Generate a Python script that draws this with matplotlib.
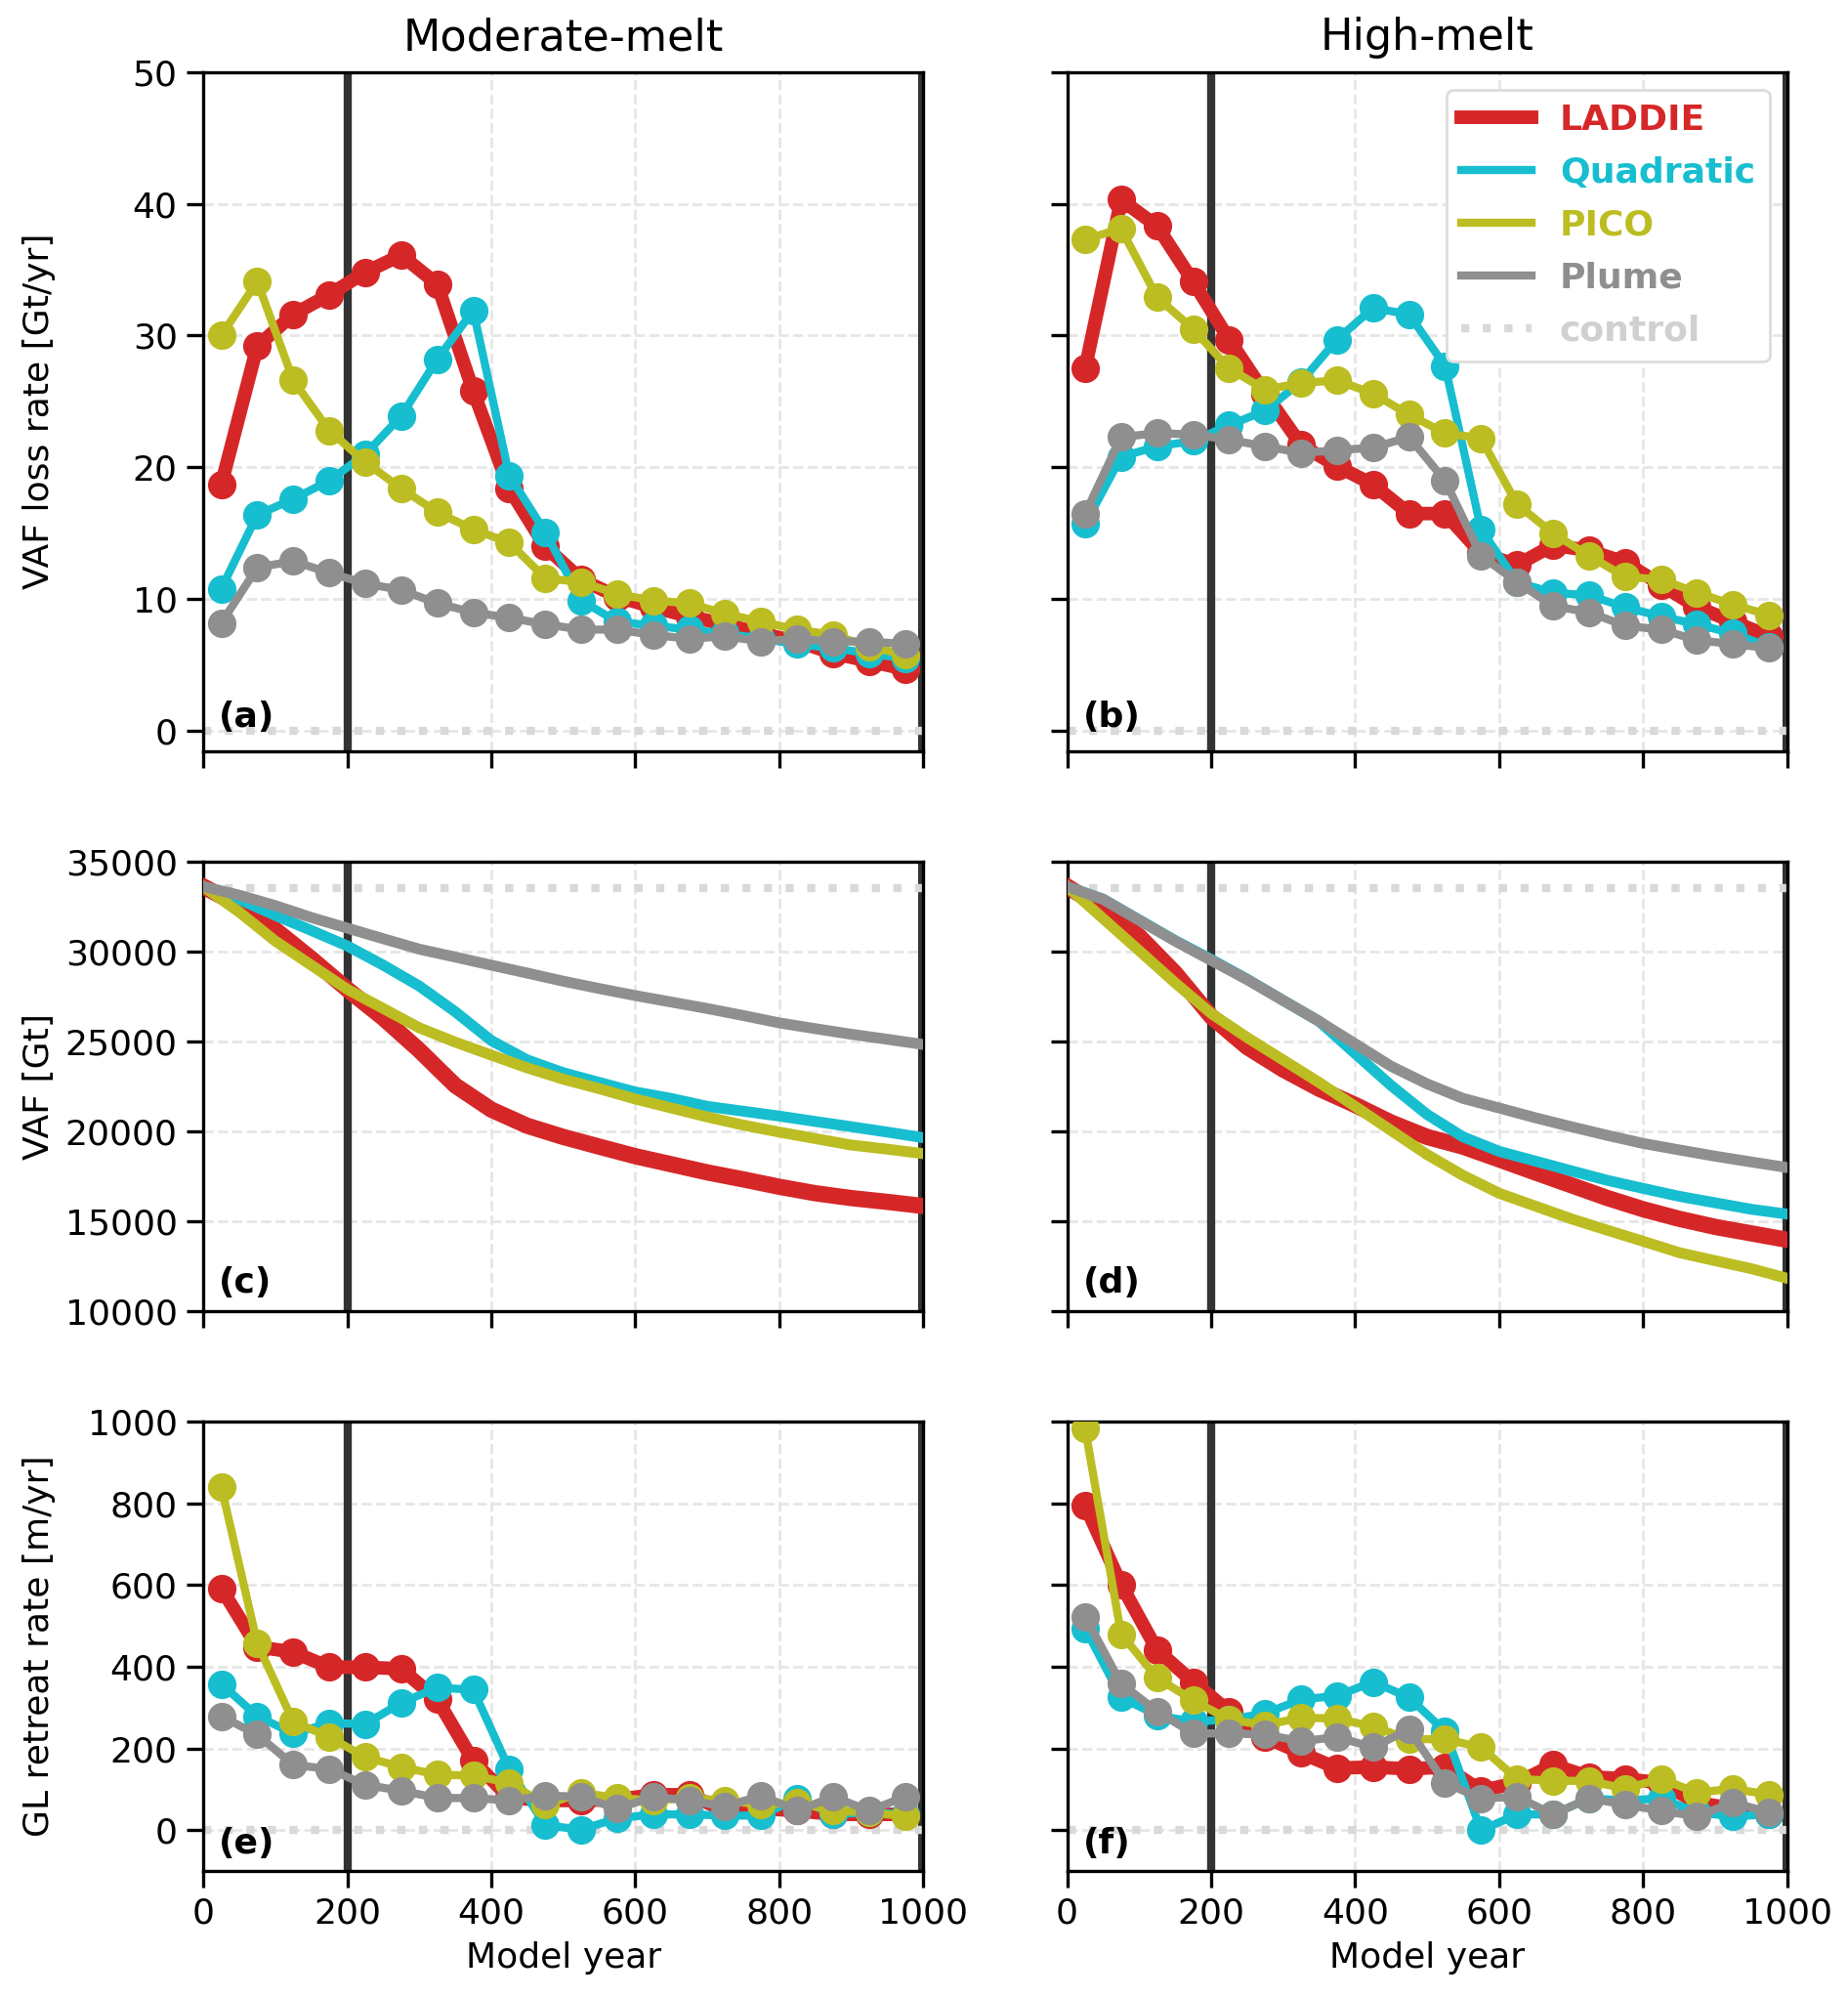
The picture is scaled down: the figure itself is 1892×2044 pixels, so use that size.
import numpy as np
import matplotlib.pyplot as plt
import matplotlib.gridspec as gridspec

# model years of the 50-yr averaged rates
yrs = np.arange(25, 1000, 50)
# VAF sampling years
vyrs = np.arange(0, 1001, 50)

# VAF loss rate [Gt/yr], moderate melt
loss_mod_laddie = [18.7, 29.2, 31.6, 33.1, 34.8, 36.1, 33.9, 25.8, 18.4, 14.0,
                   11.5, 10.2, 9.4, 8.7, 8.1, 7.4, 6.8, 5.9, 5.3, 4.7]
loss_mod_quad = [10.8, 16.4, 17.6, 19.0, 21.0, 23.9, 28.2, 31.9, 19.4, 15.1,
                 9.9, 8.3, 8.0, 7.7, 7.4, 7.0, 6.6, 6.3, 5.9, 5.5]
loss_mod_pico = [30.0, 34.1, 26.6, 22.8, 20.4, 18.4, 16.6, 15.3, 14.3, 11.6,
                 11.3, 10.4, 9.9, 9.7, 8.9, 8.3, 7.7, 7.3, 6.4, 5.8]
loss_mod_plume = [8.2, 12.4, 12.9, 12.0, 11.2, 10.7, 9.7, 9.0, 8.6, 8.1,
                  7.7, 7.7, 7.3, 7.0, 7.2, 6.8, 7.0, 6.8, 6.8, 6.6]

# VAF loss rate [Gt/yr], high melt
loss_high_laddie = [27.5, 40.3, 38.3, 34.1, 29.7, 25.6, 21.7, 20.1, 18.7, 16.5,
                    16.5, 13.5, 12.6, 14.1, 13.7, 12.8, 11.1, 9.4, 8.3, 7.2]
loss_high_quad = [15.7, 20.8, 21.6, 22.0, 23.2, 24.3, 26.5, 29.7, 32.1, 31.6,
                  27.7, 15.3, 11.3, 10.5, 10.3, 9.4, 8.7, 8.1, 7.4, 6.4]
loss_high_pico = [37.3, 38.1, 32.9, 30.5, 27.5, 25.9, 26.4, 26.6, 25.6, 24.0,
                  22.6, 22.2, 17.2, 15.0, 13.3, 11.7, 11.5, 10.5, 9.6, 8.8]
loss_high_plume = [16.5, 22.3, 22.6, 22.5, 22.1, 21.6, 21.1, 21.3, 21.5, 22.3,
                   19.0, 13.3, 11.3, 9.5, 9.0, 8.0, 7.7, 6.9, 6.6, 6.3]

# VAF [Gt], moderate melt
vaf_mod_laddie = [33600, 32540, 31200, 29590, 27890, 26290, 24500, 22540, 21200, 20300,
                  19680, 19140, 18610, 18160, 17710, 17320, 16910, 16550, 16280, 16070, 15840]
vaf_mod_quad = [33600, 32890, 32000, 31160, 30300, 29230, 28070, 26640, 25040, 23960,
                23250, 22710, 22180, 21820, 21380, 21110, 20840, 20540, 20250, 19950, 19640]
vaf_mod_pico = [33600, 32180, 30570, 29230, 27890, 26820, 25750, 24950, 24230, 23520,
                22890, 22360, 21790, 21290, 20790, 20340, 19950, 19590, 19230, 19000, 18750]
vaf_mod_plume = [33600, 33120, 32540, 31880, 31290, 30700, 30120, 29680, 29230, 28790,
                 28340, 27930, 27540, 27180, 26820, 26430, 26020, 25700, 25390, 25110, 24820]

# VAF [Gt], high melt
vaf_high_laddie = [33600, 32360, 30840, 28790, 26380, 24680, 23430, 22360, 21460, 20480,
                   19680, 19140, 18430, 17710, 17000, 16290, 15660, 15130, 14680, 14320, 13960]
vaf_high_quad = [33600, 32900, 31750, 30600, 29550, 28450, 27270, 26110, 24320, 22540,
                 20930, 19680, 18880, 18340, 17800, 17270, 16820, 16380, 16020, 15660, 15390]
vaf_high_pico = [33600, 31820, 30040, 28250, 26550, 25210, 23960, 22710, 21380, 20040,
                 18700, 17540, 16550, 15840, 15130, 14500, 13880, 13250, 12800, 12360, 11820]
vaf_high_plume = [33600, 32890, 31730, 30570, 29500, 28430, 27270, 26110, 24860, 23610,
                  22630, 21820, 21290, 20750, 20250, 19770, 19320, 18960, 18610, 18290, 17980]

# GL retreat rate [m/yr], moderate melt
gl_mod_laddie = [592, 449, 436, 399, 399, 395, 320, 170, 80, 73,
                 73, 75, 87, 87, 48, 53, 48, 39, 39, 39]
gl_mod_quad = [358, 279, 237, 262, 260, 312, 349, 344, 150, 12,
               2, 29, 39, 39, 36, 36, 78, 39, 44, 39]
gl_mod_pico = [841, 457, 266, 228, 179, 155, 136, 134, 116, 63,
               92, 79, 73, 79, 73, 63, 68, 48, 44, 34]
gl_mod_plume = [279, 234, 160, 150, 111, 97, 79, 79, 73, 85,
                82, 53, 82, 73, 58, 85, 48, 82, 48, 82]

# GL retreat rate [m/yr], high melt
gl_high_laddie = [795, 601, 441, 363, 291, 228, 189, 152, 155, 150,
                  155, 97, 116, 160, 131, 126, 116, 68, 53, 39]
gl_high_quad = [494, 325, 281, 266, 271, 286, 320, 329, 363, 325,
                242, 0, 39, 39, 78, 73, 78, 44, 34, 39]
gl_high_pico = [983, 480, 373, 318, 271, 257, 276, 273, 254, 223,
                223, 203, 126, 121, 121, 102, 126, 92, 102, 87]
gl_high_plume = [523, 359, 291, 237, 237, 234, 218, 228, 203, 247,
                 116, 78, 82, 39, 78, 63, 48, 34, 68, 44]

names = ['LADDIE', 'Quadratic', 'PICO', 'Plume']
colors = ['#d62728', '#17becf', '#bcbd22', '#8f8f8f']
widths = [5, 3, 3, 3]
vaf_ctrl = 33500

loss = [[loss_mod_laddie, loss_mod_quad, loss_mod_pico, loss_mod_plume],
        [loss_high_laddie, loss_high_quad, loss_high_pico, loss_high_plume]]
vaf = [[vaf_mod_laddie, vaf_mod_quad, vaf_mod_pico, vaf_mod_plume],
       [vaf_high_laddie, vaf_high_quad, vaf_high_pico, vaf_high_plume]]
gl = [[gl_mod_laddie, gl_mod_quad, gl_mod_pico, gl_mod_plume],
      [gl_high_laddie, gl_high_quad, gl_high_pico, gl_high_plume]]

fig = plt.figure(figsize=(9.46, 10.22), dpi=200)
gs = gridspec.GridSpec(3, 2, figure=fig, height_ratios=[1.51, 1, 1],
                       left=0.110, right=0.967, top=0.964, bottom=0.063,
                       hspace=0.21, wspace=0.2)

letters = [['(a)', '(c)', '(e)'], ['(b)', '(d)', '(f)']]
ylabels = ['VAF loss rate [Gt/yr]', 'VAF [Gt]', 'GL retreat rate [m/yr]']
ylims = [(-1.5, 50), (10000, 35000), (-100, 1000)]
titles = ['Moderate-melt', 'High-melt']

for col in range(2):
    for row in range(3):
        ax = fig.add_subplot(gs[row, col])
        ax.grid(True, ls='--', color='#e6e6e6', lw=1)
        ax.axvline(200, color='#333333', lw=3, zorder=2)
        ax.axvline(1000, color='#333333', lw=4, zorder=2)
        if row == 1:
            ax.axhline(vaf_ctrl, color='#d9d9d9', ls=':', lw=3, label='control')
            for i in range(4):
                ax.plot(vyrs, vaf[col][i], color=colors[i], lw=widths[i] + 1,
                        label=names[i], zorder=3)
        else:
            data = loss if row == 0 else gl
            ax.axhline(0, color='#d9d9d9', ls=':', lw=3, label='control', zorder=2)
            for i in range(4):
                ax.plot(yrs, data[col][i], color=colors[i], lw=widths[i],
                        marker='o', ms=9.5, label=names[i], zorder=3)
        ax.set_xlim(0, 1000)
        ax.set_ylim(*ylims[row])
        ax.set_xticks([0, 200, 400, 600, 800, 1000])
        ax.tick_params(labelsize=13, width=1.2, length=6)
        for s in ax.spines.values():
            s.set_linewidth(1.2)
        if row == 0:
            ax.set_yticks([0, 10, 20, 30, 40, 50])
            ax.set_title(titles[col], fontsize=16, pad=8)
        if row < 2:
            ax.set_xticklabels([])
        else:
            ax.set_xlabel('Model year', fontsize=13)
        if col == 0:
            ax.set_ylabel(ylabels[row], fontsize=13)
            ax.yaxis.set_label_coords(-0.205, 0.5)
        else:
            ax.set_yticklabels([])
        ax.text(0.022, 0.025, letters[col][row], transform=ax.transAxes,
                fontsize=13, fontweight='bold', va='bottom')
        if col == 1 and row == 0:
            handles = [plt.Line2D([], [], color=colors[i], lw=widths[i])
                       for i in range(4)]
            handles.append(plt.Line2D([], [], color='#d9d9d9', ls=':', lw=3))
            leg = ax.legend(handles, names + ['control'], loc='upper right',
                            prop={'weight': 'bold', 'size': 13},
                            handlelength=2.0, framealpha=1, edgecolor='#dddddd',
                            borderaxespad=0.5, labelspacing=0.55)
            for txt, c in zip(leg.get_texts(), colors + ['#d0d0d0']):
                txt.set_color(c)

fig.savefig('out.png', dpi=200)
